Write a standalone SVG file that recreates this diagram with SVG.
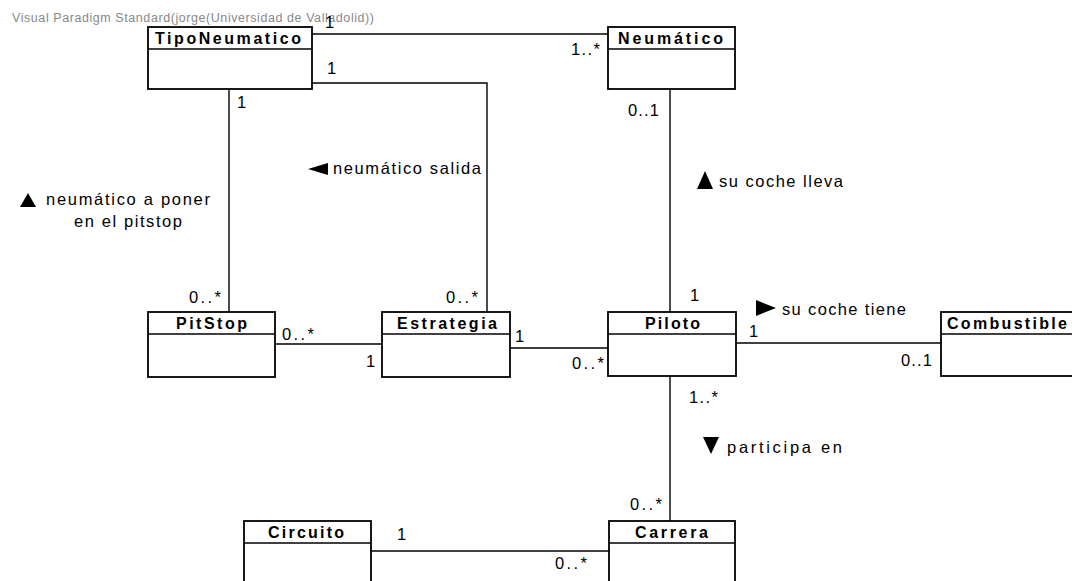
<svg xmlns="http://www.w3.org/2000/svg" width="1072" height="581" viewBox="0 0 1072 581">
<style>
.box{fill:#fff;stroke:#000;stroke-width:1.8}
.div{stroke:#000;stroke-width:1.5}
.name{font-family:"Liberation Sans",Arial,sans-serif;font-size:16px;font-weight:bold;text-anchor:middle;fill:#000}
.lbl{font-family:"Liberation Sans",Arial,sans-serif;font-size:16.5px;fill:#000}
.conn{fill:none;stroke:#000;stroke-width:1.4}
.wm{font-family:"Liberation Sans",Arial,sans-serif;font-size:12.5px;fill:#888}
</style>
<rect width="1072" height="581" fill="#fff"/>
<text class="wm" x="12" y="21.5" textLength="362" lengthAdjust="spacing">Visual Paradigm Standard(jorge(Universidad de Valladolid))</text>

<g id="connectors">
  <line class="conn" x1="312" y1="34" x2="608" y2="34"/>
  <polyline class="conn" points="312,83 487,83 487,312"/>
  <line class="conn" x1="229" y1="89" x2="229" y2="312"/>
  <line class="conn" x1="275" y1="344" x2="382" y2="344"/>
  <line class="conn" x1="510" y1="348" x2="608" y2="348"/>
  <line class="conn" x1="736" y1="343" x2="941" y2="343"/>
  <line class="conn" x1="670" y1="89" x2="670" y2="312"/>
  <line class="conn" x1="670" y1="376" x2="670" y2="521"/>
  <line class="conn" x1="371" y1="551" x2="609" y2="551"/>
</g>

<g id="labels">
  <text class="lbl" x="325" y="28">1</text>
  <text class="lbl" x="571" y="55" textLength="29" lengthAdjust="spacing">1..*</text>
  <text class="lbl" x="327" y="74">1</text>
  <text class="lbl" x="237" y="108">1</text>
  <text class="lbl" x="628" y="116" textLength="31" lengthAdjust="spacing">0..1</text>
  <polygon points="308,169 328,163 328,175" fill="#000"/>
  <text class="lbl" x="333" y="174" textLength="148" lengthAdjust="spacing">neumático salida</text>
  <polygon points="28,193 20,207 36,207" fill="#000"/>
  <text class="lbl" x="46" y="205" textLength="164" lengthAdjust="spacing">neumático a poner</text>
  <text class="lbl" x="74" y="227" textLength="108" lengthAdjust="spacing">en el pitstop</text>
  <polygon points="705,171 697,189 713,189" fill="#000"/>
  <text class="lbl" x="719" y="187" textLength="124" lengthAdjust="spacing">su coche lleva</text>
  <text class="lbl" x="189" y="303" textLength="32" lengthAdjust="spacing">0..*</text>
  <text class="lbl" x="446" y="303" textLength="32" lengthAdjust="spacing">0..*</text>
  <text class="lbl" x="690" y="301">1</text>
  <polygon points="756,300 776,308 756,316" fill="#000"/>
  <text class="lbl" x="782" y="315" textLength="124" lengthAdjust="spacing">su coche tiene</text>
  <text class="lbl" x="282" y="340" textLength="32" lengthAdjust="spacing">0..*</text>
  <text class="lbl" x="366" y="367">1</text>
  <text class="lbl" x="515" y="342">1</text>
  <text class="lbl" x="572" y="369" textLength="32" lengthAdjust="spacing">0..*</text>
  <text class="lbl" x="749" y="337">1</text>
  <text class="lbl" x="901" y="366" textLength="31" lengthAdjust="spacing">0..1</text>
  <text class="lbl" x="689" y="403" textLength="29" lengthAdjust="spacing">1..*</text>
  <polygon points="703,437 719,437 711,454" fill="#000"/>
  <text class="lbl" x="727" y="453" textLength="115" lengthAdjust="spacing">participa en</text>
  <text class="lbl" x="630" y="510" textLength="32" lengthAdjust="spacing">0..*</text>
  <text class="lbl" x="397" y="540">1</text>
  <text class="lbl" x="555" y="569" textLength="32" lengthAdjust="spacing">0..*</text>
</g>

<g id="TipoNeumatico">
  <rect class="box" x="148" y="27" width="164" height="62"/>
  <line class="div" x1="148" y1="49" x2="312" y2="49"/>
  <text class="name" x="228" y="44" textLength="146" lengthAdjust="spacing">TipoNeumatico</text>
</g>
<g id="Neumatico">
  <rect class="box" x="608" y="27" width="127" height="62"/>
  <line class="div" x1="608" y1="49" x2="735" y2="49"/>
  <text class="name" x="670.5" y="44" textLength="105" lengthAdjust="spacing">Neumático</text>
</g>
<g id="PitStop">
  <rect class="box" x="148" y="312" width="127" height="65"/>
  <line class="div" x1="148" y1="334" x2="275" y2="334"/>
  <text class="name" x="211.5" y="329" textLength="71" lengthAdjust="spacing">PitStop</text>
</g>
<g id="Estrategia">
  <rect class="box" x="382" y="312" width="128" height="65"/>
  <line class="div" x1="382" y1="334" x2="510" y2="334"/>
  <text class="name" x="447" y="329" textLength="100" lengthAdjust="spacing">Estrategia</text>
</g>
<g id="Piloto">
  <rect class="box" x="608" y="312" width="128" height="64"/>
  <line class="div" x1="608" y1="334" x2="736" y2="334"/>
  <text class="name" x="672.5" y="329" textLength="55" lengthAdjust="spacing">Piloto</text>
</g>
<g id="Combustible">
  <rect class="box" x="941" y="312" width="134" height="64"/>
  <line class="div" x1="941" y1="334" x2="1075" y2="334"/>
  <text class="name" x="1007" y="329" textLength="120" lengthAdjust="spacing">Combustible</text>
</g>
<g id="Circuito">
  <rect class="box" x="244" y="521" width="127" height="70"/>
  <line class="div" x1="244" y1="543" x2="371" y2="543"/>
  <text class="name" x="306" y="538" textLength="76" lengthAdjust="spacing">Circuito</text>
</g>
<g id="Carrera">
  <rect class="box" x="609" y="521" width="126" height="70"/>
  <line class="div" x1="609" y1="543" x2="735" y2="543"/>
  <text class="name" x="671.5" y="538" textLength="73" lengthAdjust="spacing">Carrera</text>
</g>
</svg>
